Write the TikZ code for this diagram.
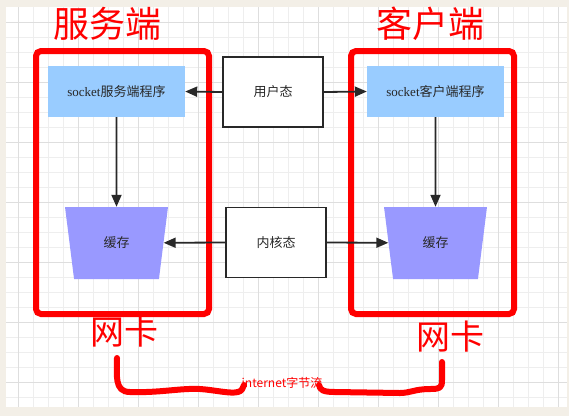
\documentclass[tikz,border=0pt]{standalone}
\usepackage{fontspec}
\setmainfont{Liberation Serif}
\newfontfamily\cjk{Noto Sans CJK SC}
\usetikzlibrary{arrows.meta,shapes.geometric}
\definecolor{bgbeige}{RGB}{243,239,231}
\definecolor{gridminor}{RGB}{238,238,238}
\definecolor{gridmajor}{RGB}{222,222,222}
\definecolor{progblue}{RGB}{153,204,255}
\definecolor{bufpurple}{RGB}{153,153,255}
\definecolor{darkline}{RGB}{40,40,40}
\definecolor{txtdark}{RGB}{40,40,40}
\definecolor{redline}{RGB}{255,0,0}
\tikzset{
  prog/.style={fill=progblue, minimum width=137pt, minimum height=51pt, inner sep=0pt,
    text=txtdark, font=\fontsize{13}{15}\selectfont},
  statebox/.style={draw=darkline, line width=1.8pt, fill=white, minimum width=100pt,
    minimum height=70pt, inner sep=0pt, text=txtdark, font=\cjk\fontsize{13}{15}\selectfont},
  bufshape/.style={trapezium, trapezium stretches=true, shape border rotate=180,
    trapezium angle=77, minimum width=103pt, minimum height=72pt, inner sep=0pt,
    fill=bufpurple, text=txtdark, font=\cjk\fontsize{13}{15}\selectfont},
  redframe/.style={draw=redline, line width=6pt, rounded corners=5pt, inner sep=0pt},
  bigred/.style={text=redline, font=\cjk\fontsize{36}{40}\selectfont, inner sep=0pt},
  arr/.style={draw=darkline, line width=1.8pt, -{Triangle[length=12pt,width=10pt]}},
  wire/.style={draw=redline, line width=6pt, line cap=round, line join=round},
  netlabel/.style={text=redline, font=\cjk\fontsize{12}{14}\selectfont, inner sep=0pt}
}
\begin{document}
\begin{tikzpicture}[x=1pt,y=-1pt]
\useasboundingbox (0,0) rectangle (569,416);
\fill[bgbeige] (0,0) rectangle (569,416);
\fill[white] (6,7) rectangle (567,407);
% grid
\foreach \i in {0,...,36} {
  \pgfmathsetmacro{\xx}{18+15*\i}
  \draw[gridminor, line width=0.8pt] (\xx,7) -- (\xx,407);
}
\foreach \i in {0,...,25} {
  \pgfmathsetmacro{\yy}{22+15*\i}
  \draw[gridminor, line width=0.8pt] (6,\yy) -- (567,\yy);
}
\foreach \i in {0,...,9} {
  \pgfmathsetmacro{\xx}{18+60*\i}
  \draw[gridmajor, line width=0.8pt] (\xx,7) -- (\xx,407);
}
\foreach \i in {0,...,6} {
  \pgfmathsetmacro{\yy}{22+60*\i}
  \draw[gridmajor, line width=0.8pt] (6,\yy) -- (567,\yy);
}
% red frames
\node[redframe, minimum width=173pt, minimum height=263pt] (sframe) at (122.5,182.5) {};
\node[redframe, minimum width=163pt, minimum height=263pt] (cframe) at (432.5,182.5) {};
% titles
\node[bigred] (stitle) at (107,24) {服务端};
\node[bigred] (ctitle) at (430,24) {客户端};
% program boxes
\node[prog] (sprog) at (116.5,91.5) {socket{\cjk 服务端程序}};
\node[prog] (cprog) at (435.5,91.5) {socket{\cjk 客户端程序}};
% state boxes
\node[statebox] (user) at (273,92) {用户态};
\node[statebox] (kernel) at (276,242.5) {内核态};
% buffers
\node[bufshape] (sbuf) at (116.5,243) {缓存};
\node[bufshape] (cbuf) at (435.5,243) {缓存};
% arrows
\draw[arr] (user.west) -- (sprog.east);
\draw[arr] (user.east) -- (cprog.west);
\draw[arr] (sprog.south) -- (sbuf.north);
\draw[arr] (cprog.south) -- (cbuf.north);
\draw[arr] (kernel.west) -- (sbuf);
\draw[arr] (kernel.east) -- (cbuf);
% NIC labels
\node[bigred, font=\cjk\fontsize{34}{38}\selectfont] (snic) at (124,332) {网卡};
\node[bigred, font=\cjk\fontsize{34}{38}\selectfont] (cnic) at (450,337) {网卡};
% hand-drawn link
\draw[wire] (117,358) .. controls (117,375) and (114,392) .. (130,392)
  .. controls (160,393) and (180,388) .. (200,389)
  .. controls (215,390) and (230,394) .. (238,392)
  .. controls (242,391) and (243,388) .. (244,385);
\draw[wire] (319,385) .. controls (320,390) and (323,392) .. (335,392)
  -- (400,393) .. controls (410,393) and (415,389) .. (430,389)
  .. controls (440,389) and (442,388) .. (442,380) -- (442,362);
\node[netlabel] (inet) at (282,383) {internet字节流};
\end{tikzpicture}
\end{document}
